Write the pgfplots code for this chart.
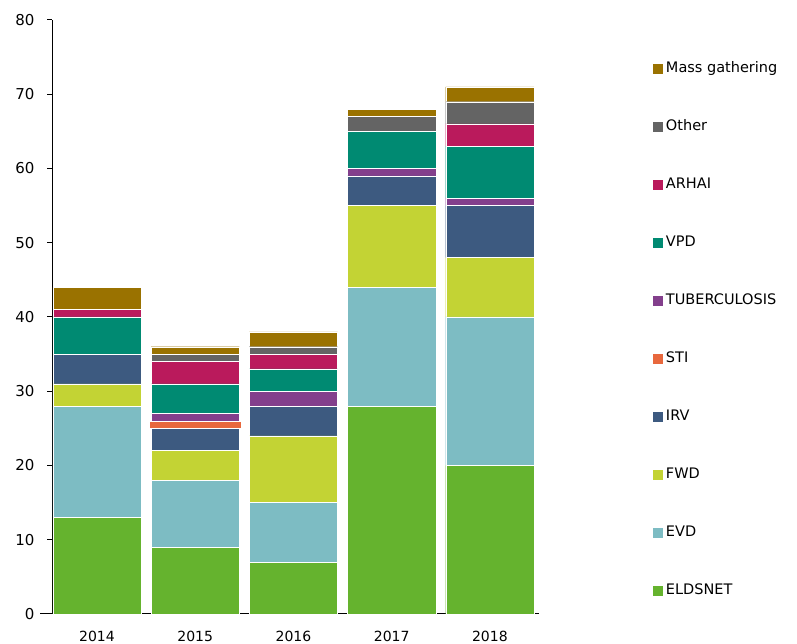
\documentclass[border=0pt]{standalone}
\usepackage{pgfplots}
\usepackage{pgfplotstable}
\pgfplotsset{compat=1.18}
\usepackage{fontspec}
\setmainfont{DejaVu Sans}
\definecolor{cMass}{HTML}{9A7200}
\definecolor{cOther}{HTML}{646464}
\definecolor{cARHAI}{HTML}{BA1A5C}
\definecolor{cVPD}{HTML}{008A72}
\definecolor{cTB}{HTML}{833F8C}
\definecolor{cSTI}{HTML}{E8683D}
\definecolor{cIRV}{HTML}{3D5A80}
\definecolor{cFWD}{HTML}{C3D334}
\definecolor{cEVD}{HTML}{7DBCC3}
\definecolor{cELD}{HTML}{65B32E}
\pgfplotstableread{
year ELD EVD FWD IRV STI TB VPD ARHAI Other Mass
0 13 15 3 4 0 0 5 1 0 3
1 9 9 4 3 1 1 4 3 1 1
2 7 8 9 4 0 2 3 2 1 2
3 28 16 11 4 0 1 5 0 2 1
4 20 20 8 7 0 1 7 3 3 2
}\data
\begin{document}
\begin{tikzpicture}[x=1pt,y=1pt]
\useasboundingbox (0,0) rectangle (797,644);
\begin{axis}[
  at={(52pt,30pt)}, anchor=south west,
  scale only axis, width=487pt, height=594pt,
  ybar stacked, bar width=0.9,
  xmin=-0.458, xmax=4.5, ymin=0, ymax=80,
  ytick={0,10,...,80},
  xtick={0,1,2,3,4}, xticklabels={2014,2015,2016,2017,2018},
  axis x line*=bottom, axis y line*=left,
  axis line style={-, black, line width=1pt},
  x axis line style={shorten <=-12pt},
  tick align=outside, major tick length=5pt,
  ytick style={black, line width=1pt},
  xtick style={draw=none},
  /pgf/number format/assume math mode=true,
  tick label style={font=\fontsize{14}{16}\selectfont, text=black},
  yticklabel style={xshift=-9pt, font=\fontsize{15}{17}\selectfont},
  xticklabel style={yshift=-9pt},
  reverse legend,
  legend style={at={(1.232,0.929)}, anchor=north west, draw=none, fill=none,
    inner sep=0pt, font=\fontsize{14.5}{16}\selectfont, row sep=45pt,
    cells={anchor=west}, text=black,
    nodes={inner xsep=2.5pt, inner ysep=0pt, text height=10pt, text depth=3pt}},
  legend image code/.code={\fill[#1] (0pt,-5.5pt) rectangle (11pt,5.5pt);},
]
\addplot[fill=cELD, draw=white, line width=0.3pt] table[x=year,y=ELD]{\data};
\addplot[fill=cEVD, draw=white, line width=0.3pt] table[x=year,y=EVD]{\data};
\addplot[fill=cFWD, draw=white, line width=0.3pt] table[x=year,y=FWD]{\data};
\addplot[fill=cIRV, draw=white, line width=0.3pt] table[x=year,y=IRV]{\data};
\addplot[fill=cSTI, draw=white, line width=0.3pt, bar width=0.93] table[x=year,y=STI]{\data};
\addplot[fill=cTB, draw=white, line width=0.3pt] table[x=year,y=TB]{\data};
\addplot[fill=cVPD, draw=white, line width=0.3pt] table[x=year,y=VPD]{\data};
\addplot[fill=cARHAI, draw=white, line width=0.3pt] table[x=year,y=ARHAI]{\data};
\addplot[fill=cOther, draw=white, line width=0.3pt] table[x=year,y=Other]{\data};
\addplot[fill=cMass, draw=white, line width=0.3pt] table[x=year,y=Mass]{\data};
\legend{ELDSNET,EVD,FWD,IRV,STI,TUBERCULOSIS,VPD,ARHAI,Other,Mass gathering}
\end{axis}
\end{tikzpicture}
\end{document}
